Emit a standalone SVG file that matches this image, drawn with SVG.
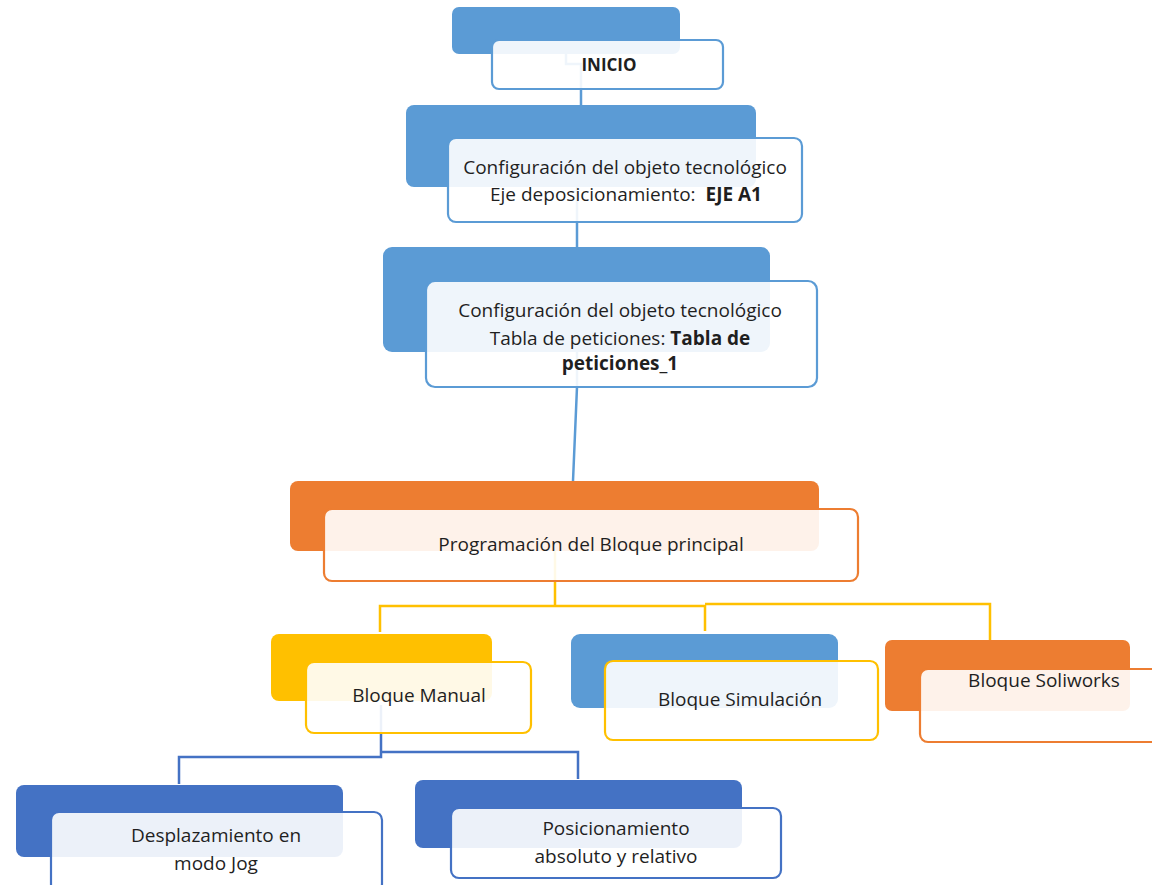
<svg xmlns="http://www.w3.org/2000/svg" width="1152" height="885" viewBox="0 0 1152 885">
<style>
.bg{fill:#ffffff}
.t{font-family:"Open Sans","Liberation Sans",sans-serif;font-size:19px;fill:#1f1f1f;text-anchor:middle}
.b{font-weight:bold}
.back{stroke:none}
.front{fill:#ffffff;fill-opacity:0.9;stroke-width:2.2}
.lb{fill:#5B9BD5}.db{fill:#4472C4}.or{fill:#ED7D31}.ye{fill:#FFC000}
.slb{stroke:#5B9BD5}.sdb{stroke:#4472C4}.sor{stroke:#ED7D31}.sye{stroke:#FFC000}
.c{fill:none;stroke-width:2.5}
</style>
<rect class="bg" x="0" y="0" width="1152" height="885"/>
<g id="connectors">
<path class="c slb" d="M566,54 V64 H581 V105"/>
<path class="c slb" d="M577,187 V248"/>
<path class="c slb" d="M577,352 V387 L573,481"/>
<path class="c sye" d="M555,551 V606 M380,632 V606 H705 V631 M705,604 H990 V641"/>
<path class="c sdb" d="M381,705 V757 H179 V784 M381,752 H578 V779"/>
</g>
<g id="inicio">
<rect class="back lb" x="452" y="7" width="228" height="47" rx="7"/>
<rect class="front slb" x="492" y="40" width="231" height="49" rx="7"/>
<text class="t b" x="609" y="71" style="font-size:17px">INICIO</text>
</g>
<g id="config-eje">
<rect class="back lb" x="406" y="105" width="350" height="82" rx="8"/>
<rect class="front slb" x="448" y="138" width="354" height="84" rx="8"/>
<text class="t" x="625" y="174">Configuración del objeto tecnológico</text>
<text class="t" x="626" y="201">Eje deposicionamiento:&#160; <tspan class="b">EJE A1</tspan></text>
</g>
<g id="config-tabla">
<rect class="back lb" x="383" y="247" width="387" height="105" rx="9"/>
<rect class="front slb" x="426" y="281" width="391" height="106" rx="9"/>
<text class="t" x="620" y="317">Configuración del objeto tecnológico</text>
<text class="t" x="620" y="345">Tabla de peticiones: <tspan class="b">Tabla de</tspan></text>
<text class="t b" x="620" y="370">peticiones_1</text>
</g>
<g id="principal">
<rect class="back or" x="290" y="481" width="529" height="70" rx="8"/>
<rect class="front sor" x="324" y="509" width="534" height="72" rx="8"/>
<text class="t" x="591" y="551">Programación del Bloque principal</text>
</g>
<g id="manual">
<rect class="back ye" x="271" y="634" width="221" height="67" rx="8"/>
<rect class="front sye" x="306" y="662" width="225" height="71" rx="8"/>
<text class="t" x="419" y="702">Bloque Manual</text>
</g>
<g id="simulacion">
<rect class="back lb" x="571" y="634" width="267" height="74" rx="9"/>
<rect class="front sye" x="605" y="661" width="273" height="79" rx="8"/>
<text class="t" x="740" y="706">Bloque Simulación</text>
</g>
<g id="soliworks">
<rect class="back or" x="885" y="640" width="245" height="71" rx="7"/>
<rect class="front sor" x="920" y="669" width="250" height="73" rx="8"/>
<text class="t" x="1044" y="687">Bloque Soliworks</text>
</g>
<g id="jog">
<rect class="back db" x="16" y="785" width="327" height="72" rx="8"/>
<rect class="front sdb" x="51" y="812" width="331" height="80" rx="8"/>
<text class="t" x="216" y="842">Desplazamiento en</text>
<text class="t" x="216" y="870">modo Jog</text>
</g>
<g id="posicionamiento">
<rect class="back db" x="415" y="780" width="327" height="68" rx="8"/>
<rect class="front sdb" x="451" y="808" width="330" height="70" rx="8"/>
<text class="t" x="616" y="835">Posicionamiento</text>
<text class="t" x="616" y="863">absoluto y relativo</text>
</g>
</svg>
